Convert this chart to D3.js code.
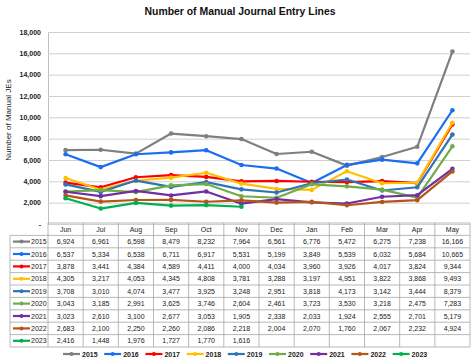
<!DOCTYPE html>
<html><head><meta charset="utf-8">
<script src="https://cdn.jsdelivr.net/npm/d3@7"></script>
<style>body{margin:0;background:#fff;}svg{display:block;font-family:"Liberation Sans",Arial,sans-serif;}</style>
</head><body><svg id="c" width="474" height="360"></svg>
<script>
const months = ["Jun","Jul","Aug","Sep","Oct","Nov","Dec","Jan","Feb","Mar","Apr","May"];
const years = ["2015","2016","2017","2018","2019","2020","2021","2022","2023"];
const v2015 = [6924,6961,6598,8479,8232,7964,6561,6776,5472,6275,7238,16166];
const v2016 = [6537,5334,6538,6711,6917,5531,5199,3849,5539,6032,5684,10665];
const v2017 = [3878,3441,4384,4589,4411,4000,4034,3960,3926,4017,3824,9344];
const v2018 = [4305,3217,4053,4345,4808,3781,3288,3197,4951,3822,3868,9493];
const v2019 = [3708,3010,4074,3477,3925,3248,2951,3818,4173,3142,3444,8379];
const v2020 = [3043,3185,2991,3625,3746,2604,2461,3723,3530,3218,2475,7283];
const v2021 = [3023,2610,3100,2677,3053,1905,2338,2033,1924,2555,2701,5179];
const v2022 = [2683,2100,2250,2260,2086,2218,2004,2070,1760,2067,2232,4924];
const v2023 = [2416,1448,1976,1727,1770,1616];
const yTicks = [0,2000,4000,6000,8000,10000,12000,14000,16000,18000];
const colors = ["#7f7f7f","#1a6ef0","#ff0000","#ffc000","#2e75b6","#70ad47","#7030a0","#b5541b","#00b050"];

const series = [v2015,v2016,v2017,v2018,v2019,v2020,v2021,v2022,v2023].map((v,i)=>({year:years[i],values:v,color:colors[i]}));

const svg = d3.select("#c");
const L=48, R=470, T=32, B=224;
const x = d3.scaleBand().domain(months).range([L,R]);
const y = d3.scaleLinear().domain([0,18000]).range([B,T]);
const fmt = d3.format(",");

svg.append("text").attr("x",240).attr("y",15).attr("text-anchor","middle")
  .attr("font-size",10.5).attr("font-weight","bold").attr("fill","#111")
  .attr("textLength",191).attr("lengthAdjust","spacingAndGlyphs").text("Number of Manual Journal Entry Lines");

// grid
const yAxis = d3.axisLeft(y).tickValues(yTicks).tickSize(-(R-L)).tickFormat(d=>d===0?"-":fmt(d));
const ga = svg.append("g").attr("transform",`translate(${L},0)`).call(yAxis);
ga.select(".domain").attr("stroke","#bfbfbf");
ga.selectAll(".tick line").attr("stroke","#d0d0d0").attr("stroke-width",1);
ga.selectAll(".tick text").attr("font-size",7).attr("font-weight","bold").attr("fill","#222").attr("x",-7);

svg.append("text").attr("transform",`translate(11,120) rotate(-90)`).attr("text-anchor","middle")
  .attr("font-size",8).attr("fill","#222").text("Number of Manual JEs");

const line = d3.line().x((d,i)=>x(months[i])+x.bandwidth()/2).y(d=>y(d));
series.forEach(s=>{
  const g = svg.append("g");
  g.append("path").attr("d",line(s.values)).attr("fill","none").attr("stroke",s.color).attr("stroke-width",2.2).attr("stroke-linejoin","round");
  g.selectAll("circle").data(s.values).join("circle")
    .attr("cx",(d,i)=>x(months[i])+x.bandwidth()/2).attr("cy",d=>y(d)).attr("r",2.3).attr("fill",s.color);
});

// table
const tL=10, rowH=12.4, tT=223;
const nRows = years.length+1;
const tB = tT+rowH*nRows;
const tg = svg.append("g");
const bc="#a6a6a6";
for(let r=0;r<=nRows;r++){
  const yy=tT+r*rowH;
  tg.append("line").attr("x1",r===0?L:tL).attr("x2",R).attr("y1",yy).attr("y2",yy).attr("stroke",bc).attr("stroke-width",0.8);
}
tg.append("line").attr("x1",tL).attr("x2",tL).attr("y1",tT+rowH).attr("y2",tB).attr("stroke",bc).attr("stroke-width",0.8);
months.forEach((m,i)=>{
  tg.append("line").attr("x1",x(m)).attr("x2",x(m)).attr("y1",tT).attr("y2",tB).attr("stroke",bc).attr("stroke-width",0.8);
  tg.append("text").attr("x",x(m)+x.bandwidth()/2).attr("y",tT+rowH/2+2.5).attr("text-anchor","middle")
    .attr("font-size",7).attr("fill","#222").text(m);
});
tg.append("line").attr("x1",R).attr("x2",R).attr("y1",tT).attr("y2",tB).attr("stroke",bc).attr("stroke-width",0.8);
series.forEach((s,r)=>{
  const cy = tT+(r+1)*rowH+rowH/2;
  tg.append("line").attr("x1",tL+3).attr("x2",tL+20).attr("y1",cy).attr("y2",cy).attr("stroke",s.color).attr("stroke-width",2.2);
  tg.append("circle").attr("cx",tL+11.5).attr("cy",cy).attr("r",2).attr("fill",s.color);
  tg.append("text").attr("x",tL+21).attr("y",cy+2.5).attr("font-size",7).attr("fill","#222").text(s.year);
  s.values.forEach((v,i)=>{
    tg.append("text").attr("x",x(months[i])+x.bandwidth()/2).attr("y",cy+2.5).attr("text-anchor","middle")
      .attr("font-size",7).attr("fill","#222").text(fmt(v));
  });
});

// legend
const lg = svg.append("g");
series.forEach((s,i)=>{
  const lx = 63+i*41.2, ly=354;
  lg.append("line").attr("x1",lx).attr("x2",lx+17).attr("y1",ly).attr("y2",ly).attr("stroke",s.color).attr("stroke-width",2.2);
  lg.append("circle").attr("cx",lx+8.5).attr("cy",ly).attr("r",2).attr("fill",s.color);
  lg.append("text").attr("x",lx+19).attr("y",ly+2.5).attr("font-size",7).attr("font-weight","bold").attr("fill","#222").text(s.year);
});
</script></body></html>
